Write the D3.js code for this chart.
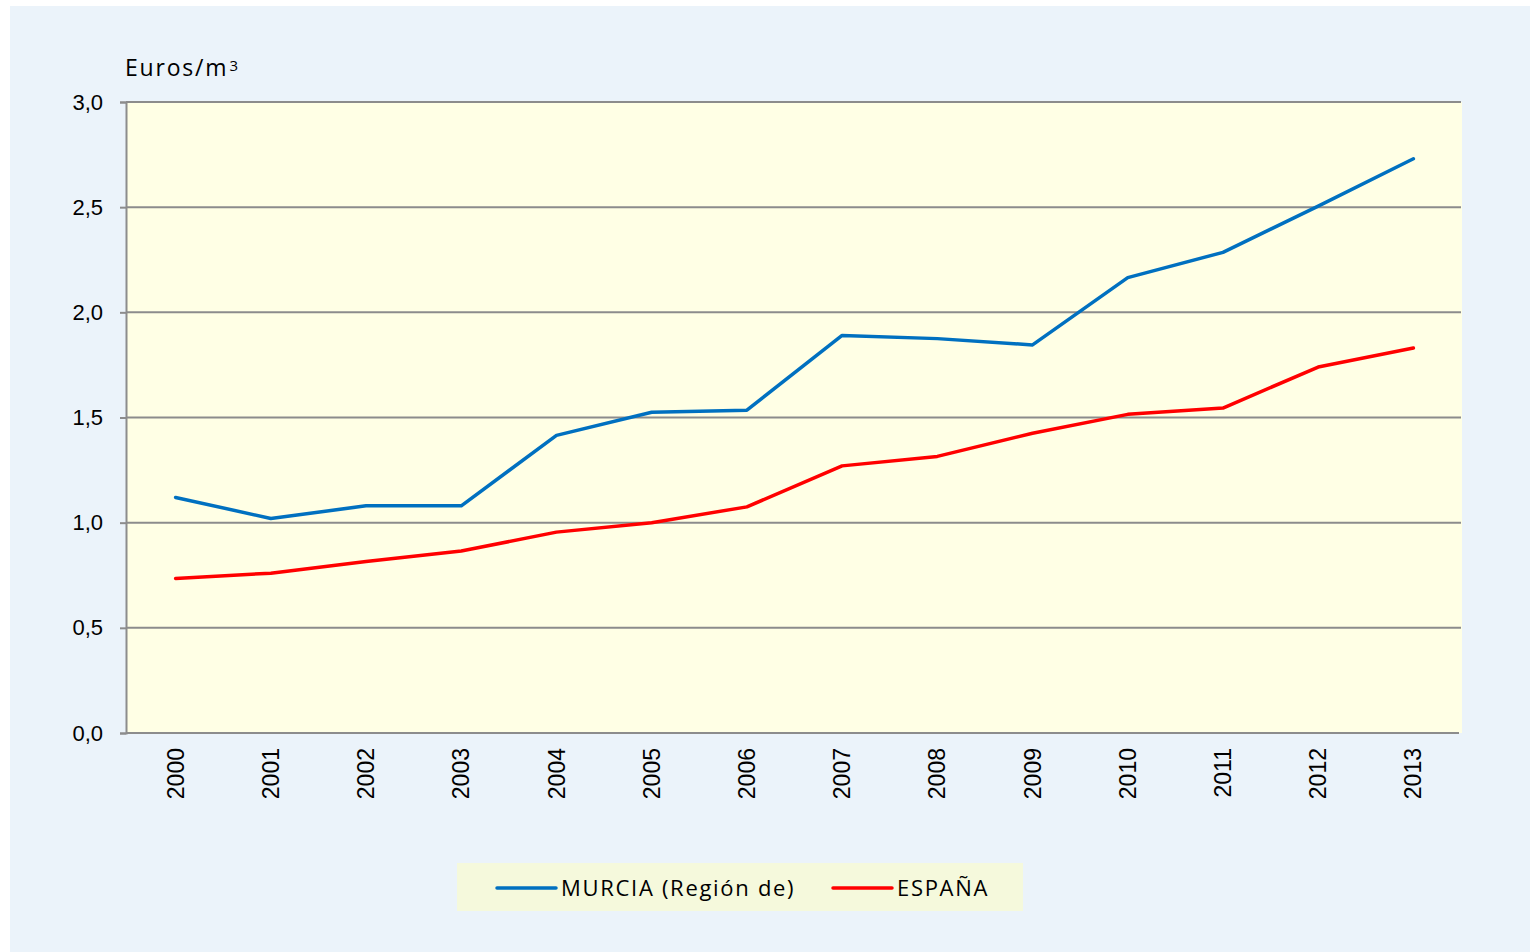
<!DOCTYPE html>
<html>
<head>
<meta charset="utf-8">
<script src="https://cdn.jsdelivr.net/npm/d3@7"></script>
<style>
  body { margin: 0; background: #ffffff; }
  svg { display: block; }
</style>
</head>
<body>
<div id="chart"></div>
<script>
var years = ['2000', '2001', '2002', '2003', '2004', '2005', '2006',
             '2007', '2008', '2009', '2010', '2011', '2012', '2013'];
var murcia = [1.12, 1.02, 1.08, 1.08, 1.415, 1.525, 1.535,
              1.89, 1.875, 1.845, 2.165, 2.285, 2.505, 2.73];
var espana = [0.735, 0.76, 0.815, 0.865, 0.955, 1.0, 1.075,
              1.27, 1.315, 1.425, 1.515, 1.545, 1.74, 1.83];
var yTicks = [0, 0.5, 1, 1.5, 2, 2.5, 3];
var seriesNames = ['MURCIA (Región de)', 'ESPAÑA'];
var seriesColors = ['#0070c0', '#ff0000'];

(function () {
  var W = 1530, H = 952;
  var mLeft = 126, mRight = 1461, mTop = 102, mBottom = 733;

  var svg = d3.select('#chart')
      .append('svg')
      .attr('width', W)
      .attr('height', H);

  svg.append('rect')
      .attr('x', 10).attr('y', 6)
      .attr('width', W - 10).attr('height', H - 6)
      .attr('fill', '#ebf3fa');

  svg.append('rect')
      .attr('x', mLeft).attr('y', mTop)
      .attr('width', mRight - mLeft + 1).attr('height', mBottom - mTop)
      .attr('fill', '#ffffe5');

  var x = d3.scaleBand().domain(years).range([mLeft + 2, mRight]);
  var y = d3.scaleLinear().domain([0, 3]).range([mBottom, mTop]);

  // gridlines
  svg.append('g')
      .selectAll('line')
      .data(yTicks.filter(function (d) { return d > 0; }))
      .enter()
      .append('line')
      .attr('x1', mLeft).attr('x2', mRight)
      .attr('y1', function (d) { return y(d); })
      .attr('y2', function (d) { return y(d); })
      .attr('stroke', '#8c8c8c')
      .attr('stroke-width', 2);

  // y axis
  var yAxis = svg.append('g')
      .attr('transform', 'translate(' + mLeft + ',0)')
      .call(d3.axisLeft(y).tickValues(yTicks).tickSize(6).tickPadding(17)
        .tickFormat(function (d) { return d3.format('.1f')(d).replace('.', ','); }));
  yAxis.select('.domain').attr('stroke', '#8c8c8c').attr('stroke-width', 2);
  yAxis.selectAll('.tick line').attr('stroke', '#8c8c8c').attr('stroke-width', 2);
  yAxis.selectAll('.tick text')
      .attr('font-family', 'Liberation Sans, Arial, sans-serif')
      .attr('font-size', 22)
      .attr('fill', '#000');

  // x axis
  var xAxis = svg.append('g')
      .attr('transform', 'translate(0,' + mBottom + ')')
      .call(d3.axisBottom(x).tickSize(0).tickPadding(0));
  xAxis.select('.domain')
      .attr('d', 'M' + mLeft + ',0H' + (mRight - 2))
      .attr('stroke', '#8c8c8c').attr('stroke-width', 2);
  xAxis.selectAll('.tick text')
      .attr('font-family', 'Liberation Sans, Arial, sans-serif')
      .attr('font-size', 23)
      .attr('fill', '#000')
      .attr('transform', 'rotate(-90)')
      .attr('text-anchor', 'end')
      .attr('dy', '0.35em')
      .attr('x', -15)
      .attr('y', 0);

  var unit = svg.append('text')
      .attr('x', 125).attr('y', 76)
      .attr('font-family', 'Open Sans, sans-serif')
      .attr('font-size', 23)
      .attr('letter-spacing', 1.8)
      .attr('fill', '#000')
      .text('Euros/m');
  unit.append('tspan')
      .attr('font-size', 15)
      .attr('dx', 1)
      .attr('dy', -5)
      .text('3');

  var line = d3.line()
      .x(function (d, i) { return x(years[i]) + x.bandwidth() / 2; })
      .y(function (d) { return y(d); });

  [murcia, espana].forEach(function (s, i) {
    svg.append('path')
        .datum(s)
        .attr('d', line)
        .attr('fill', 'none')
        .attr('stroke', seriesColors[i])
        .attr('stroke-width', 3.5)
        .attr('stroke-linejoin', 'round')
        .attr('stroke-linecap', 'round');
  });

  // legend
  var legend = svg.append('g');
  legend.append('rect')
      .attr('x', 457).attr('y', 863)
      .attr('width', 566).attr('height', 48)
      .attr('fill', '#f5f9dc');
  var legendX = [497, 833];
  var items = legend.selectAll('g.item')
      .data(seriesNames)
      .enter()
      .append('g')
      .attr('class', 'item')
      .attr('transform', function (d, i) { return 'translate(' + legendX[i] + ',888)'; });
  items.append('line')
      .attr('x1', 0).attr('x2', 59)
      .attr('stroke', function (d, i) { return seriesColors[i]; })
      .attr('stroke-width', 3.5)
      .attr('stroke-linecap', 'round');
  items.append('text')
      .attr('x', 64)
      .attr('dy', '0.36em')
      .attr('font-family', 'Open Sans, sans-serif')
      .attr('font-size', 22)
      .attr('letter-spacing', 1.7)
      .attr('fill', '#000')
      .text(function (d) { return d; });
})();
</script>
</body>
</html>
